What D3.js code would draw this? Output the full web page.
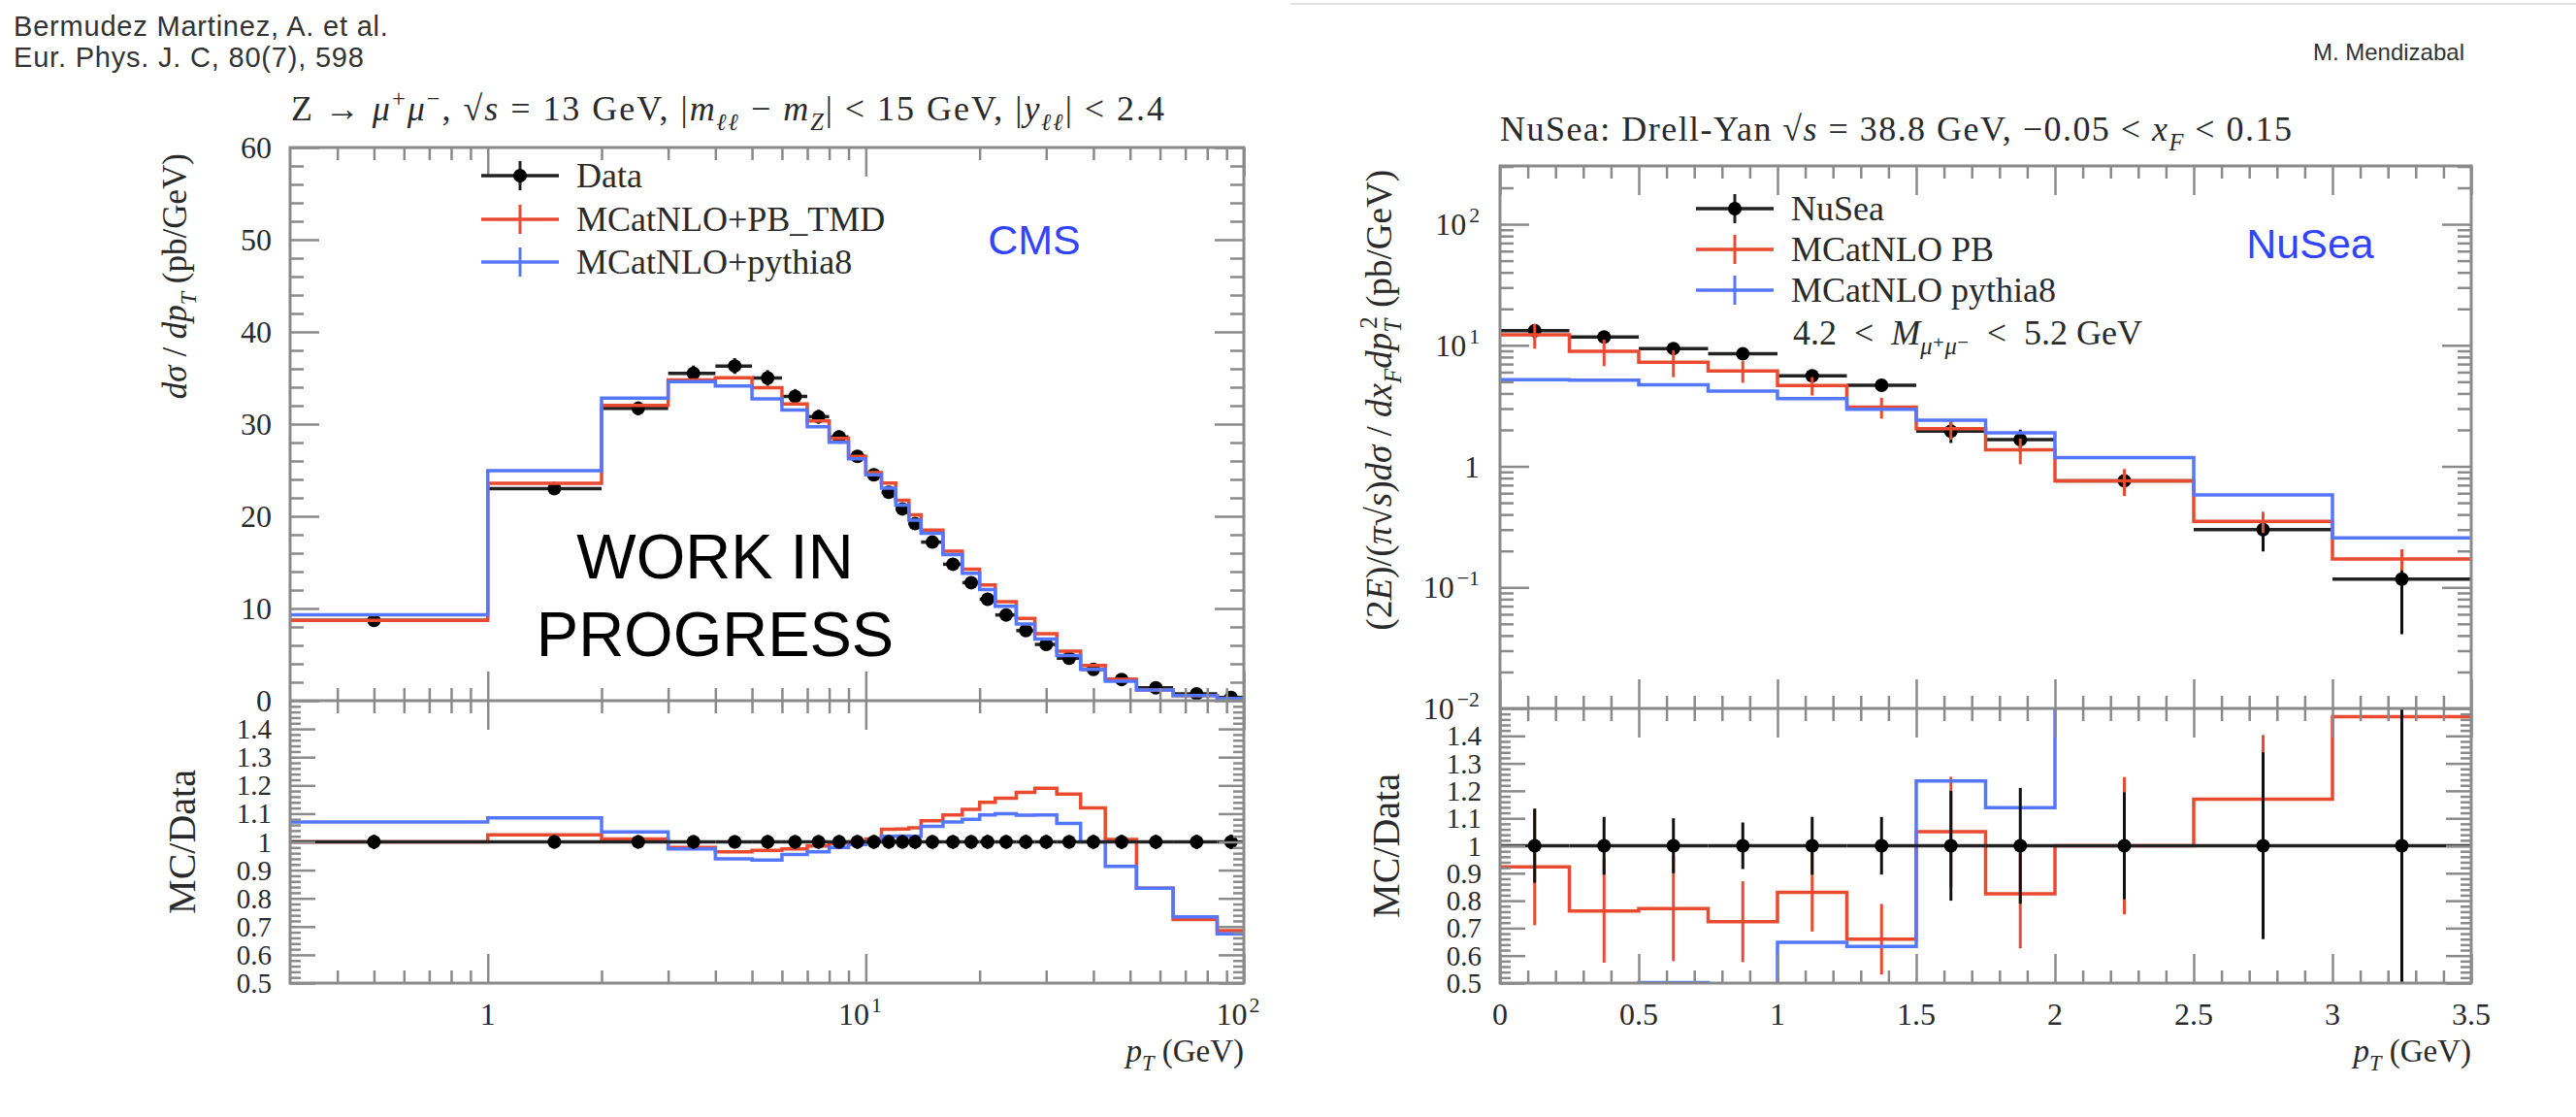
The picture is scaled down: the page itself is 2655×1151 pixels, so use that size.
<!DOCTYPE html>
<html>
<head>
<meta charset="utf-8">
<script src="https://cdn.jsdelivr.net/npm/d3@7"></script>
<style>
  body { margin: 0; background: #fff; }
  svg { display: block; }
</style>
</head>
<body>
<div id="plot"></div>
<script>
// CMS Z -> mu mu, 13 TeV : bin edges and values (pb/GeV)
const cmsEdges = [0, 1, 2, 3, 4, 5, 6, 7, 8, 9, 10, 11, 12, 13, 14, 16, 18, 20, 22, 25, 28, 32, 37, 43, 52, 65, 85, 100];
const cmsData = [8.7, 23.0, 31.7, 35.5, 36.3, 35.0, 33.0, 30.8, 28.6, 26.5, 24.5, 22.6, 20.8, 19.2, 17.2, 14.8, 12.8, 11.0, 9.3, 7.6, 6.1, 4.6, 3.4, 2.3, 1.4, 0.75, 0.35];
const cmsDataErr = [0.22, 0.55, 0.75, 0.85, 0.85, 0.85, 0.8, 0.75, 0.7, 0.65, 0.6, 0.55, 0.5, 0.47, 0.42, 0.36, 0.31, 0.27, 0.23, 0.19, 0.15, 0.11, 0.085, 0.058, 0.035, 0.019, 0.009];
const cmsPB = [8.70, 23.58, 32.02, 34.79, 35.03, 33.95, 32.18, 30.34, 28.46, 26.50, 24.75, 23.60, 21.74, 20.16, 18.49, 16.21, 14.27, 12.54, 10.74, 8.93, 7.26, 5.38, 3.81, 2.32, 1.17, 0.544, 0.240];
const cmsPy8 = [9.31, 24.96, 32.81, 34.61, 34.12, 32.73, 31.52, 29.72, 28.03, 26.24, 24.50, 23.05, 21.22, 19.58, 18.15, 15.84, 13.82, 12.05, 10.23, 8.32, 6.68, 4.90, 3.40, 2.10, 1.17, 0.551, 0.236];

// NuSea Drell-Yan, 38.8 GeV
const nuEdges = [0, 0.25, 0.5, 0.75, 1.0, 1.25, 1.5, 1.75, 2.0, 2.5, 3.0, 3.5];
const nuData = [13.2, 11.7, 9.4, 8.5, 5.6, 4.67, 1.95, 1.66, 0.76, 0.30, 0.117];
const nuDataErr = [1.78, 1.23, 0.94, 0.72, 0.59, 0.49, 0.39, 0.35, 0.148, 0.102, 0.076];
const nuPB = [12.18, 8.92, 7.25, 6.15, 4.65, 3.08, 2.05, 1.37, 0.76, 0.351, 0.172];
const nuPBErr = [2.8, 2.2, 1.8, 1.25, 0.8, 0.6, 0.39, 0.33, 0.19, 0.07, 0.034];
const nuPy8 = [5.2, 5.15, 4.72, 4.19, 3.63, 2.96, 2.41, 1.89, 1.18, 0.58, 0.257];

// tick values
const ratioTicks = [0.5, 0.6, 0.7, 0.8, 0.9, 1.0, 1.1, 1.2, 1.3, 1.4];
const ratioLabels = ["0.5", "0.6", "0.7", "0.8", "0.9", "1", "1.1", "1.2", "1.3", "1.4"];
const cmsYTicks = [0, 10, 20, 30, 40, 50, 60];
const nuXTicks = [0, 0.5, 1, 1.5, 2, 2.5, 3, 3.5];
const nuXLabels = ["0", "0.5", "1", "1.5", "2", "2.5", "3", "3.5"];

const W = 2655, H = 1151;
const red = "#ea4a30", blue = "#5577ff", frameCol = "#8a8a8a", txt = "#2a2a2a";
const serif = "'Liberation Serif', 'DejaVu Serif', serif";
const sans = "'Liberation Sans', Arial, sans-serif";
const sp = "\u2002";
const tickFs = 32, ratioFs = 29;

const svg = d3.select("#plot").append("svg")
  .attr("width", W).attr("height", H)
  .attr("font-family", serif).attr("fill", txt);

// rich text: parts = [string, kind, dx] kind: n, i, sub, isub, sup
function rich(t, parts, fs) {
  let cur = 0;
  parts.forEach(([s, k, extra]) => {
    const span = t.append("tspan").text(s);
    if (k.indexOf("i") >= 0) span.attr("font-style", "italic");
    let target = 0;
    if (k.indexOf("sub") >= 0) target = 0.28 * fs;
    if (k.indexOf("sup") >= 0) target = -0.4 * fs;
    if (target !== 0) span.attr("font-size", 0.68 * fs);
    if (target !== cur) span.attr("dy", target - cur);
    if (extra) span.attr("dx", extra);
    cur = target;
  });
  return t;
}

function text(x, y, fs, anchor) {
  return svg.append("text").attr("x", x).attr("y", y)
    .attr("font-size", fs).attr("text-anchor", anchor || "start");
}

function tickSet(g, scale, vals, len, side, pos) {
  const ax = side === "bottom" ? d3.axisTop(scale) : side === "top" ? d3.axisBottom(scale)
    : side === "left" ? d3.axisRight(scale) : d3.axisLeft(scale);
  ax.tickValues(vals).tickSize(len).tickFormat("");
  const tg = g.append("g")
    .attr("transform", (side === "bottom" || side === "top") ? `translate(0,${pos})` : `translate(${pos},0)`)
    .call(ax);
  tg.select(".domain").remove();
  tg.selectAll("line").attr("stroke", frameCol).attr("stroke-width", 2.5);
}

function stepPath(edges, vals, x, y, clampX) {
  const pts = edges.map((e, i) => [Math.max(e, clampX), vals[Math.min(i, vals.length - 1)]]);
  return d3.line().x(d => x(d[0])).y(d => y(d[1])).curve(d3.curveStepAfter)(pts);
}

let clipId = 0;
function clip(x0, y0, w, h) {
  const id = "clip" + (clipId++);
  svg.append("clipPath").attr("id", id).append("rect")
    .attr("x", x0).attr("y", y0).attr("width", w).attr("height", h);
  return svg.append("g").attr("clip-path", `url(#${id})`);
}

function drawPanel(o) {
  const x = o.x, yT = o.yTop, yR = o.yRatio;
  const gT = clip(o.x0, o.top, o.x1 - o.x0, o.mid - o.top);
  const gR = clip(o.x0, o.mid, o.x1 - o.x0, o.bottom - o.mid);
  const lo = x.domain()[0];
  const centers = o.edges.slice(0, -1).map((e, i) => (e + o.edges[i + 1]) / 2);
  const ones = o.data.map(() => 1);

  // data: x bars, y bars, markers
  function dataMarks(g, vals, errs, y, ratio) {
    vals.forEach((v, i) => {
      const e0 = Math.max(o.edges[i], lo), e1 = o.edges[i + 1];
      g.append("line").attr("x1", x(e0)).attr("x2", x(e1)).attr("y1", y(v)).attr("y2", y(v))
        .attr("stroke", "#222").attr("stroke-width", 3.5);
      const er = ratio ? errs[i] / o.data[i] : errs[i];
      g.append("line").attr("x1", x(centers[i])).attr("x2", x(centers[i]))
        .attr("y1", y(Math.max(v - er, 1e-4))).attr("y2", y(v + er))
        .attr("stroke", "#111").attr("stroke-width", 3);
      g.append("circle").attr("cx", x(centers[i])).attr("cy", y(v)).attr("r", 7).attr("fill", "#000");
    });
  }
  dataMarks(gT, o.data, o.dataErr, yT, false);

  o.mcs.forEach(mc => {
    const ratio = mc.vals.map((v, i) => v / o.data[i]);
    gT.append("path").attr("d", stepPath(o.edges, mc.vals, x, yT, lo))
      .attr("fill", "none").attr("stroke", mc.color).attr("stroke-width", 3.5);
    gR.append("path").attr("d", stepPath(o.edges, ratio, x, yR, lo))
      .attr("fill", "none").attr("stroke", mc.color).attr("stroke-width", 3.5);
    if (mc.errs) {
      mc.vals.forEach((v, i) => {
        gT.append("line").attr("x1", x(centers[i])).attr("x2", x(centers[i]))
          .attr("y1", yT(v - mc.errs[i])).attr("y2", yT(v + mc.errs[i]))
          .attr("stroke", mc.color).attr("stroke-width", 3);
        gR.append("line").attr("x1", x(centers[i])).attr("x2", x(centers[i]))
          .attr("y1", yR(ratio[i] - mc.errs[i] / o.data[i])).attr("y2", yR(ratio[i] + mc.errs[i] / o.data[i]))
          .attr("stroke", mc.color).attr("stroke-width", 3);
      });
    }
  });
  dataMarks(gR, ones, o.dataErr, yR, true);

  // ticks
  const g = svg.append("g");
  [[o.top, "top"], [o.mid, "bottom"], [o.mid, "top"], [o.bottom, "bottom"]].forEach(([pos, side]) => {
    tickSet(g, x, o.xMajor, 30, side, pos);
    tickSet(g, x, o.xMinor, 13, side, pos);
  });
  const yTs = yT.copy().range([o.mid, o.top]);
  [[o.x0, "left"], [o.x1, "right"]].forEach(([pos, side]) => {
    tickSet(g, yTs, o.yMajor, 30, side, pos);
    tickSet(g, yTs, o.yMinor, 14, side, pos);
    tickSet(g, yR, ratioTicks, 26, side, pos);
    tickSet(g, yR, d3.range(0.52, 1.5, 0.02).filter(v => Math.abs(v * 10 - Math.round(v * 10)) > 0.05), 11, side, pos);
  });
  g.append("rect").attr("x", o.x0).attr("y", o.top).attr("width", o.x1 - o.x0).attr("height", o.bottom - o.top)
    .attr("fill", "none").attr("stroke", frameCol).attr("stroke-width", 3);
  g.append("line").attr("x1", o.x0).attr("x2", o.x1).attr("y1", o.mid).attr("y2", o.mid)
    .attr("stroke", frameCol).attr("stroke-width", 3);

  // ratio labels
  ratioTicks.forEach((v, i) => {
    text(o.x0 - 19, yR(v) + 10, ratioFs, "end").text(ratioLabels[i]);
  });
}

// legend entry
function legend(x, y, label, kind, color) {
  const g = svg.append("g");
  g.append("line").attr("x1", x).attr("x2", x + 80).attr("y1", y).attr("y2", y)
    .attr("stroke", color).attr("stroke-width", 3.5);
  g.append("line").attr("x1", x + 40).attr("x2", x + 40).attr("y1", y - 15).attr("y2", y + 15)
    .attr("stroke", color).attr("stroke-width", 3);
  if (kind === "data") g.append("circle").attr("cx", x + 40).attr("cy", y).attr("r", 7).attr("fill", "#000");
  text(x + 98, y + 12, 36).text(label);
}

// ---------- left panel (CMS) ----------
const L = { x0: 299, x1: 1282, top: 152, mid: 722, bottom: 1013 };
const xL = d3.scaleLog().domain([0.3, 100]).range([L.x0, L.x1]);
const yLT = d3.scaleLinear().domain([0, 60]).range([L.mid, L.top]);
const yLR = d3.scaleLinear().domain([0.5, 1.5]).range([L.bottom, L.mid]);
const logMinor = [0.4, 0.5, 0.6, 0.7, 0.8, 0.9, 2, 3, 4, 5, 6, 7, 8, 9, 20, 30, 40, 50, 60, 70, 80, 90];

drawPanel(Object.assign({}, L, {
  x: xL, yTop: yLT, yRatio: yLR, edges: cmsEdges, data: cmsData, dataErr: cmsDataErr,
  mcs: [{ vals: cmsPB, color: red }, { vals: cmsPy8, color: blue }],
  xMajor: [1, 10, 100], xMinor: logMinor,
  yMajor: cmsYTicks, yMinor: d3.range(2, 60, 2).filter(v => v % 10 !== 0)
}));

cmsYTicks.forEach(v => text(L.x0 - 19, yLT(v) + 11, tickFs, "end").text(v));
text(xL(1), 1056, tickFs, "middle").text("1");
[[10, "1"], [100, "2"]].forEach(([v, e]) => {
  rich(text(xL(v) - 6, 1056, tickFs, "middle"), [["10", "n"], [e, "sup", 2]], tickFs);
});
rich(text(L.x1, 1094, 33, "end"), [["p", "i"], ["T", "isub"], [" (GeV)", "n"]], 33);

rich(svg.append("text").attr("font-size", 35).attr("text-anchor", "end")
  .attr("transform", "translate(192,158) rotate(-90)"),
  [["dσ", "i"], [" / ", "n"], ["dp", "i"], ["T", "isub"], [" (pb/GeV)", "n"]], 35);
svg.append("text").attr("font-size", 40).attr("text-anchor", "middle")
  .attr("transform", `translate(201,${(L.mid + L.bottom) / 2}) rotate(-90)`).text("MC/Data");

rich(text(300, 124, 36).attr("textLength", 900).attr("lengthAdjust", "spacing"), [
  ["Z → ", "n"], ["μ", "i"], ["+", "sup"], ["μ", "i"], ["−", "sup"], [", √", "n"], ["s", "i"],
  [" = 13 GeV, |", "n"], ["m", "i"], ["ℓℓ", "isub"], [" − ", "n"], ["m", "i"], ["Z", "isub"],
  ["| < 15 GeV, |", "n"], ["y", "i"], ["ℓℓ", "isub"], ["| < 2.4", "n"]
], 36);

legend(496, 181, "Data", "data", "#222");
legend(496, 226, "MCatNLO+PB_TMD", "mc", red);
legend(496, 270, "MCatNLO+pythia8", "mc", blue);

svg.append("text").attr("x", 1066).attr("y", 262).attr("text-anchor", "middle")
  .attr("font-family", sans).attr("font-size", 43).attr("fill", "#3344ff").text("CMS");

svg.append("text").attr("x", 737).attr("y", 596).attr("text-anchor", "middle")
  .attr("font-family", sans).attr("font-size", 65).attr("fill", "#000").text("WORK IN");
svg.append("text").attr("x", 737).attr("y", 676).attr("text-anchor", "middle")
  .attr("font-family", sans).attr("font-size", 65).attr("fill", "#000").text("PROGRESS");

// ---------- right panel (NuSea) ----------
const R = { x0: 1546, x1: 2547, top: 171, mid: 730, bottom: 1013 };
const xR = d3.scaleLinear().domain([0, 3.5]).range([R.x0, R.x1]);
const yRT = d3.scaleLog().domain([0.01, 303]).range([R.mid, R.top]);
const yRR = d3.scaleLinear().domain([0.5, 1.5]).range([R.bottom, R.mid]);
const decades = [0.01, 0.1, 1, 10, 100];
const logYMinor = [];
decades.forEach(d => { for (let k = 2; k <= 9; k++) if (k * d < 303) logYMinor.push(k * d); });

drawPanel(Object.assign({}, R, {
  x: xR, yTop: yRT, yRatio: yRR, edges: nuEdges, data: nuData, dataErr: nuDataErr,
  mcs: [{ vals: nuPB, errs: nuPBErr, color: red }, { vals: nuPy8, color: blue }],
  xMajor: nuXTicks, xMinor: d3.range(0.1, 3.5, 0.1).filter(v => Math.abs(v * 2 - Math.round(v * 2)) > 0.05),
  yMajor: decades, yMinor: logYMinor
}));

[[100, "2"], [10, "1"], [1, null], [0.1, "−1"], [0.01, "−2"]].forEach(([v, e]) => {
  const t = text(R.x0 - 21, yRT(v) + 11, tickFs, "end");
  if (e === null) t.text("1");
  else rich(t, [["10", "n"], [e, "sup", 3]], tickFs);
});
nuXTicks.forEach((v, i) => text(xR(v), 1056, tickFs, "middle").text(nuXLabels[i]));
rich(text(R.x1, 1094, 33, "end"), [["p", "i"], ["T", "isub"], [" (GeV)", "n"]], 33);

rich(svg.append("text").attr("font-size", 37).attr("text-anchor", "end")
  .attr("transform", "translate(1434,175) rotate(-90)"),
  [["(2", "n"], ["E", "i"], [")/(", "n"], ["π", "i"], ["√", "n"], ["s", "i"], [")", "n"],
   ["dσ", "i"], [" / ", "n"], ["dx", "i"], ["F", "isub"], ["dp", "i"], ["T", "isub"], ["2", "sup", -10],
   [" (pb/GeV)", "n"]], 37);
svg.append("text").attr("font-size", 40).attr("text-anchor", "middle")
  .attr("transform", `translate(1442,${(R.mid + R.bottom) / 2}) rotate(-90)`).text("MC/Data");

rich(text(R.x0, 145, 36).attr("textLength", 816).attr("lengthAdjust", "spacing"), [
  ["NuSea: Drell-Yan √", "n"], ["s", "i"], [" = 38.8 GeV, −0.05 < ", "n"], ["x", "i"], ["F", "isub"], [" < 0.15", "n"]
], 36);

legend(1748, 215, "NuSea", "data", "#222");
legend(1748, 257, "MCatNLO PB", "mc", red);
legend(1748, 299, "MCatNLO pythia8", "mc", blue);
rich(text(1848, 355, 36), [["4.2" + sp + "<" + sp, "n"], ["M", "i"], ["μ⁺μ⁻", "isub"],
  [sp + "<" + sp + "5.2 GeV", "n"]], 36);

svg.append("text").attr("x", 2381).attr("y", 266).attr("text-anchor", "middle")
  .attr("font-family", sans).attr("font-size", 43).attr("fill", "#3344ff").text("NuSea");

// header texts
svg.append("text").attr("x", 14).attr("y", 37).attr("font-family", sans).attr("font-size", 29)
  .attr("letter-spacing", 0.8).attr("fill", "#333").text("Bermudez Martinez, A. et al.");
svg.append("text").attr("x", 14).attr("y", 69).attr("font-family", sans).attr("font-size", 29)
  .attr("letter-spacing", 0.8).attr("fill", "#333").text("Eur. Phys. J. C, 80(7), 598");
svg.append("text").attr("x", 2540).attr("y", 62).attr("text-anchor", "end").attr("font-family", sans)
  .attr("font-size", 24).attr("fill", "#333").text("M. Mendizabal");
svg.append("line").attr("x1", 1330).attr("x2", W).attr("y1", 4).attr("y2", 4)
  .attr("stroke", "#e2e2e2").attr("stroke-width", 2);
</script>
</body>
</html>
